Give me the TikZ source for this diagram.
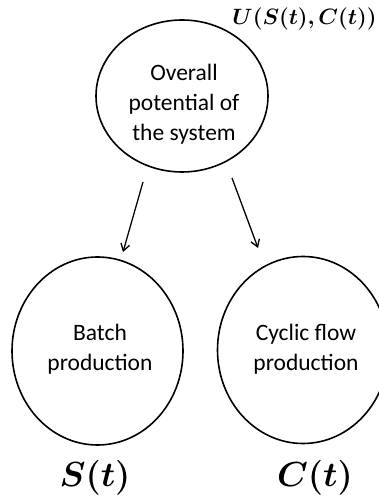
\documentclass[tikz,border=0pt]{standalone}
\usepackage{fontspec}
\usepackage{amsmath}
\usepackage{bm}
\usepackage{graphicx}
\setmainfont{Carlito}
\usetikzlibrary{shapes.geometric,arrows.meta}
\begin{document}
\begin{tikzpicture}[x=1pt,y=1pt,
  bubble/.style={draw, line width=1.6pt, ellipse, inner sep=0pt},
  bubbletext/.style={align=center, font=\fontsize{23.5}{30}\selectfont},
  mathlabel/.style={inner sep=0pt},
  arr/.style={line width=1.3pt, -{Straight Barb[length=7pt,width=9pt,line width=1.3pt]}}]
\useasboundingbox (0,0) rectangle (379,502);
% ellipses
\node[bubble, minimum width=172pt, minimum height=152pt] (top) at (182,406) {};
\node[bubble, minimum width=171pt, minimum height=188pt] (batch) at (97.5,151) {};
\node[bubble, minimum width=171pt, minimum height=187pt] (cyclic) at (303,152) {};
% texts
\node[bubbletext] (toptext) at (184,398) {Overall\\potential of\\the system};
\node[bubbletext] (batchtext) at (100,153) {Batch\\production};
\node[bubbletext] (cyclictext) at (306,153) {Cyclic flow\\production};
% math labels
\node[mathlabel] (ulabel) at (304.5,483) {\fontsize{20.74}{25}\selectfont \scalebox{1.07}{$\bm{U(S(t),C(t))}$}};
\node[mathlabel] (slabel) at (95,24) {\fontsize{24.88}{30}\selectfont \scalebox{1.4}{$\bm{S(t)}$}};
\node[mathlabel] (clabel) at (315,24) {\fontsize{24.88}{30}\selectfont \scalebox{1.4}{$\bm{C(t)}$}};
% connectors
\coordinate (a1s) at (143,320);
\coordinate (a1e) at (123,250);
\coordinate (a2s) at (232,324);
\coordinate (a2e) at (258,254);
\draw[arr] (a1s) -- (a1e);
\draw[arr] (a2s) -- (a2e);
\end{tikzpicture}
\end{document}
